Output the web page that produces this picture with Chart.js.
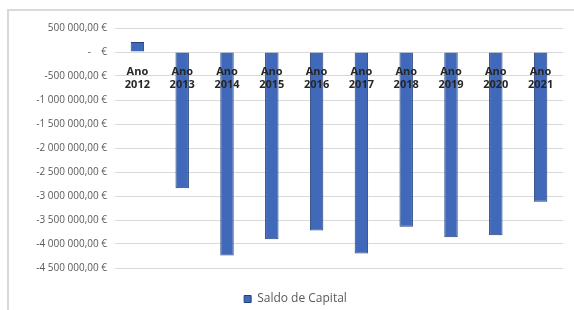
<!DOCTYPE html>
<html>
<head>
<meta charset="utf-8">
<script src="https://cdn.jsdelivr.net/npm/chart.js@4"></script>
<style>
  body { margin: 0; background: #fff; }
  #wrap { width: 574px; height: 310px; }
</style>
</head>
<body>
<div id="wrap"><canvas id="saldo-chart" width="574" height="310"></canvas></div>
<script>
const years = ['2012', '2013', '2014', '2015', '2016', '2017', '2018', '2019', '2020', '2021'];
const saldoCapital = [210000, -2840000, -4240000, -3900000, -3720000, -4200000, -3640000, -3860000, -3820000, -3120000];
const yTicks = [500000, 0, -500000, -1000000, -1500000, -2000000, -2500000, -3000000, -3500000, -4000000, -4500000];

function euro(v) {
    if (v === 0) return '-    €';
    const s = Math.abs(v).toFixed(2).replace('.', ',');
    const parts = s.split(',');
    const int = parts[0].replace(/\B(?=(\d{3})+(?!\d))/g, ' ');
    return (v < 0 ? '-' : '') + int + ',' + parts[1] + ' €';
}

// light frame round the chart (top and left only, as in the picture)
const framePlugin = {
    id: 'frame',
    beforeDraw(chart) {
        const ctx = chart.ctx;
        ctx.save();
        ctx.strokeStyle = '#d9d9d9';
        ctx.lineWidth = 2;
        ctx.beginPath();
        ctx.moveTo(8, 310);
        ctx.lineTo(8, 10);
        ctx.lineTo(574, 10);
        ctx.stroke();
        ctx.restore();
    }
};

// nudge the legend a bit to the right, like Excel centres it
const legendShift = {
    id: 'legendShift',
    afterLayout(chart) {
        chart.legend.left += 14;
        chart.legend.right += 14;
    }
};

const ctx = document.getElementById('saldo-chart').getContext('2d');
const saldoChart = new Chart(ctx, {
    type: 'bar',
    data: {
        labels: years.map(y => ['Ano', y]),
        datasets: [{
            label: 'Saldo de Capital',
            data: saldoCapital,
            backgroundColor: '#4169BA',
            borderColor: '#24407A',
            borderWidth: 1,
            barPercentage: 0.6,
            categoryPercentage: 0.5
        }]
    },
    options: {
        responsive: false,
        animation: false,
        layout: { padding: { top: 28, right: 11, bottom: -5, left: 0 } },
        plugins: {
            legend: {
                position: 'bottom',
                labels: {
                    boxWidth: 7,
                    boxHeight: 7,
                    color: '#595959',
                    font: { family: 'Open Sans', size: 12 },
                    padding: 1
                }
            },
            tooltip: { enabled: false }
        },
        scales: {
            x: {
                position: { y: 0 },
                grid: { display: false },
                border: { display: false },
                ticks: {
                    z: 1,
                    color: '#262626',
                    font: { family: 'Open Sans', size: 11, weight: 'bold' },
                    padding: 5,
                    maxRotation: 0
                }
            },
            y: {
                // axis runs a little past the last gridline, as in the picture
                min: -5000000,
                max: 500000,
                afterBuildTicks(scale) { scale.ticks = yTicks.map(v => ({ value: v })); },
                grid: { color: '#d9d9d9', drawTicks: false, lineWidth: 1 },
                border: { display: false },
                ticks: {
                    color: '#595959',
                    font: { family: 'Open Sans', size: 10 },
                    padding: 8,
                    callback: v => euro(v)
                },
                afterFit(scale) { scale.width = 115; }
            }
        }
    },
    plugins: [framePlugin, legendShift]
});
</script>
</body>
</html>
